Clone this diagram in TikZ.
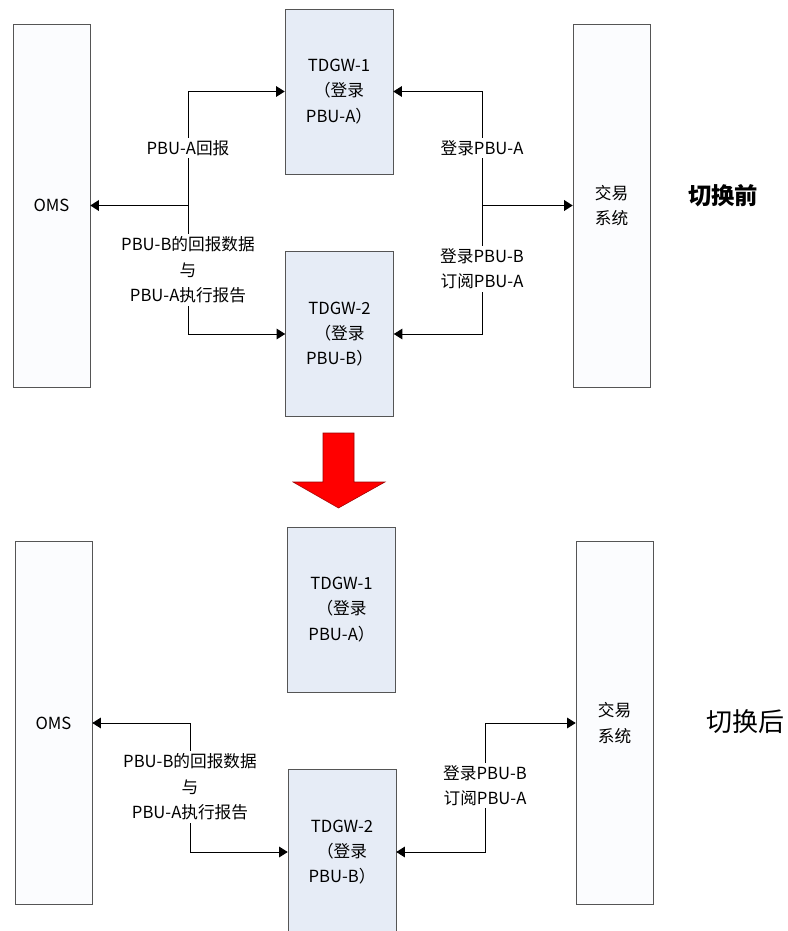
\documentclass[tikz,border=0pt]{standalone}
\usepackage{fontspec}
\setmainfont{Noto Sans CJK SC}
\usetikzlibrary{arrows.meta}
\definecolor{gwfill}{HTML}{E6ECF6}
\definecolor{sysfill}{HTML}{FBFCFE}
\definecolor{boxline}{HTML}{555555}
\begin{document}
\begin{tikzpicture}[x=0.75pt,y=-0.75pt]
	\tikzstyle{sysbox} = [draw=boxline, fill=sysfill, rectangle, minimum width=57.75pt, minimum height=272pt, inner sep=0pt, font={\fontsize{12.5}{19}\selectfont}, align=center]
	\tikzstyle{gwbox} = [draw=boxline, fill=gwfill, rectangle, minimum width=81pt, minimum height=124pt, inner sep=0pt, font={\fontsize{12.5}{19}\selectfont}, align=center]
	\tikzstyle{lbl} = [fill=white, inner sep=2pt, font={\fontsize{12.5}{19}\selectfont}, align=center]
	\tikzstyle{link} = [-{Triangle[length=6.5pt,width=8pt]}, line width=0.75pt]
	\useasboundingbox (0,0) rectangle (788,931);
	% before
	\node[sysbox] (oms1) at (51.5,205.5) {OMS};
	\node[sysbox] (sys1) at (611.5,205.5) {交易\\系统};
	\node[gwbox] (gw11) at (339,91.5) {TDGW-1\\（登录\\PBU-A）};
	\node[gwbox] (gw21) at (339.5,334) {TDGW-2\\（登录\\PBU-B）};
	\coordinate (jl1) at (188,205.5);
	\coordinate (jr1) at (482,205.5);
	\draw[link, line width=1.1pt] (jl1) -- (oms1.east);
	\draw[link] (jl1) |- (gw11.west);
	\draw[link] (jl1) |- (gw21.west);
	\draw[link, line width=1.1pt] (jr1) -- (sys1.west);
	\draw[link] (jr1) |- (gw11.east);
	\draw[link] (jr1) |- (gw21.east);
	\node[lbl] (l11) at (188,148) {PBU-A回报};
	\node[lbl] (l12) at (188,270) {PBU-B的回报数据\\与\\PBU-A执行报告};
	\node[lbl] (r11) at (482,148) {登录PBU-A};
	\node[lbl] (r12) at (482,269) {登录PBU-B\\订阅PBU-A};
	\node[font={\bfseries\fontsize{17.5}{20}\selectfont}] (t1) at (723,196) {切换前};
	% switch
	\fill[red, draw=red!60!black, line width=0.4pt] (323,433) -- (354,433) -- (354,482) -- (385,482) -- (338.5,508) -- (293,482) -- (323,482) -- cycle;
	% after
	\node[sysbox] (oms2) at (53.5,723) {OMS};
	\node[sysbox] (sys2) at (614.5,723) {交易\\系统};
	\node[gwbox] (gw12) at (341.5,609.5) {TDGW-1\\（登录\\PBU-A）};
	\node[gwbox] (gw22) at (342,852) {TDGW-2\\（登录\\PBU-B）};
	\coordinate (jl2) at (190,723);
	\coordinate (jr2) at (485,723);
	\draw[link] (jl2) -- (oms2.east);
	\draw[link] (jl2) |- (gw22.west);
	\draw[link] (jr2) -- (sys2.west);
	\draw[link] (jr2) |- (gw22.east);
	\node[lbl] (l22) at (190,787) {PBU-B的回报数据\\与\\PBU-A执行报告};
	\node[lbl] (r22) at (485,785.5) {登录PBU-B\\订阅PBU-A};
	\node[font={\fontsize{19.5}{22}\selectfont}] (t2) at (745,722) {切换后};
\end{tikzpicture}
\end{document}
